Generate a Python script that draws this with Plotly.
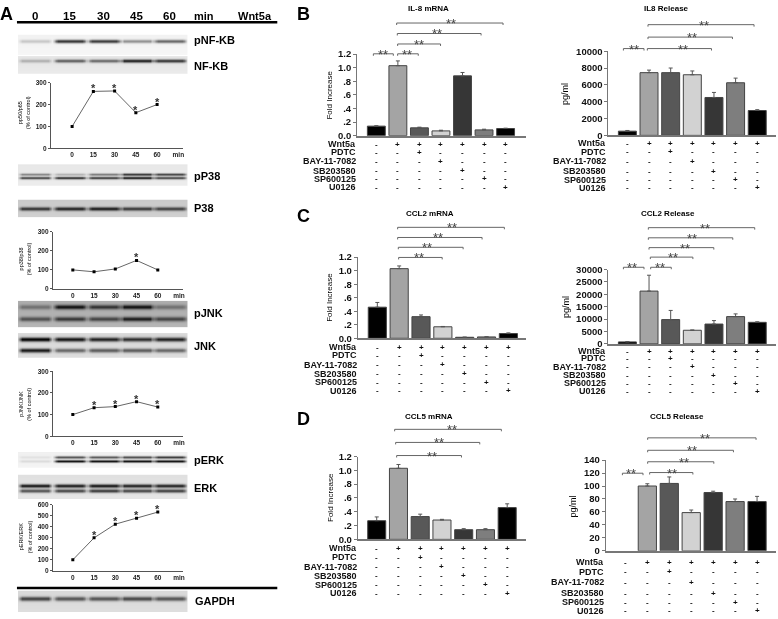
import numpy as np
import plotly.graph_objects as go

W, H = 778, 619
SANS = "Liberation Sans, Arial"

# ---------- data ----------
groups = ["Ctrl", "Wnt5a", "PDTC", "BAY", "SB", "SP", "U0126"]
bar_colors = ["#000000", "#a4a4a4", "#585858", "#d2d2d2", "#363636", "#7e7e7e", "#000000"]

il8_mrna = [0.14, 1.03, 0.115, 0.07, 0.88, 0.085, 0.105]
il8_mrna_err = [0.005, 0.07, 0.01, 0.01, 0.05, 0.01, 0.005]
il8_rel = [500, 7450, 7450, 7200, 4500, 6250, 2950]
il8_rel_err = [80, 300, 550, 450, 600, 550, 100]
ccl2_mrna = [0.46, 1.03, 0.32, 0.17, 0.015, 0.02, 0.07]
ccl2_mrna_err = [0.07, 0.04, 0.025, 0.005, 0.002, 0.002, 0.01]
ccl2_rel = [800, 21300, 9800, 5500, 8000, 11000, 8700]
ccl2_rel_err = [100, 6400, 3700, 100, 1400, 1100, 200]
ccl5_mrna = [0.27, 1.03, 0.33, 0.28, 0.14, 0.14, 0.46]
ccl5_mrna_err = [0.055, 0.055, 0.035, 0.01, 0.015, 0.015, 0.055]
ccl5_rel = [None, 100, 104, 59, 90, 76, 76]
ccl5_rel_err = [None, 3.5, 10, 4, 2, 4, 8]

treat_names = ["Wnt5a", "PDTC", "BAY-11-7082", "SB203580", "SP600125", "U0126"]
treat_signs = ["-++++++", "--+----", "---+---", "----+--", "-----+-", "------+"]

fold_ticks = [0, 0.2, 0.4, 0.6, 0.8, 1.0, 1.2]
fold_text = ["0.0", ".2", ".4", ".6", ".8", "1.0", "1.2"]

times = ["0", "15", "30", "45", "60"]
pnfkb_ratio = [100, 260, 262, 163, 200]
pp38_ratio = [100, 90, 105, 150, 100]
pjnk_ratio = [100, 132, 137, 160, 135]
perk_ratio = [100, 300, 425, 480, 535]
pnfkb_star = [0, 1, 1, 1, 1]
pp38_star = [0, 0, 0, 1, 0]
pjnk_star = [0, 1, 1, 1, 1]
perk_star = [0, 1, 1, 1, 1]

# band grey level per lane (0 min .. 60 min)
pnfkb_band = [170, 35, 40, 120, 80]
nfkb_band = [150, 80, 90, 30, 45]
pp38_upper = [110, 150, 100, 40, 50]
pp38_lower = [50, 30, 40, 15, 50]
p38_band = [35, 20, 15, 40, 45]
pjnk_upper = [95, 15, 40, 15, 95]
pjnk_lower = [60, 40, 50, 20, 50]
jnk_upper = [5, 20, 30, 40, 30]
jnk_lower = [20, 85, 75, 75, 85]
perk_upper = [205, 70, 75, 65, 50]
perk_lower = [195, 15, 15, 15, 15]
erk_upper = [10, 15, 10, 20, 20]
erk_lower = [60, 50, 40, 50, 45]
gapdh_band = [50, 65, 65, 55, 65]

# ---------- helpers ----------
fig = go.Figure()
ann, shapes = [], []
axn = [0]
LANES = [35, 70, 104, 137, 170]


def px(x):
    return x / W


def py(y):
    return 1 - y / H


def new_axes():
    axn[0] += 1
    n = axn[0]
    s = "" if n == 1 else str(n)
    return n, "x" + s, "y" + s, "xaxis" + s, "yaxis" + s


def text(x, y, t, size=9, bold=True, family=SANS, anchor="center", angle=0, color="#000000", xref="paper"):
    ann.append(dict(
        x=px(x) if xref == "paper" else x, y=py(y), xref=xref, yref="paper",
        text="<b>%s</b>" % t if bold else t, showarrow=False, xanchor=anchor, yanchor="middle",
        textangle=angle, font=dict(size=size, family=family, color=color), align="center",
        borderpad=0, borderwidth=0))


def blot(top, bottom, bg, bands, sigma=1.8):
    n, xa, ya, xl, yl = new_axes()
    xs = np.arange(18, 188.01, 2.0)
    ys = np.arange(top, bottom + 0.01, 1.0)
    z = np.full((len(ys), len(xs)), float(bg))
    z += (ys[:, None] - (top + bottom) / 2) / (bottom - top) * 8
    for yc, levels in bands:
        for c, lev in zip(LANES, levels):
            horiz = np.clip((18 - np.abs(xs - c)) / 5, 0, 1)
            vert = np.exp(-((ys - yc) / sigma) ** 2)
            z += np.outer(vert, horiz) * (lev - bg)
    fig.add_trace(go.Heatmap(x=xs, y=ys, z=z, colorscale="Greys_r", zmin=0, zmax=255, zsmooth="best",
                             showscale=False, hoverinfo="skip", xaxis=xa, yaxis=ya))
    fig.layout[xl] = dict(domain=[px(18), px(188)], range=[18, 188], visible=False, anchor=ya)
    fig.layout[yl] = dict(domain=[py(bottom), py(top)], range=[bottom, top], visible=False, anchor=xa)


def ratio_chart(vals, stars, ymax, ytick, y0, ytop, left, title1, title2, tx1, tx2, ty, first=73.0, step=21.3):
    n, xa, ya, xl, yl = new_axes()
    idx = list(range(5))
    fig.add_trace(go.Scatter(x=idx, y=vals, mode="lines+markers", line=dict(color="#666666", width=1),
                             marker=dict(color="#000000", size=3, symbol="square"),
                             xaxis=xa, yaxis=ya, showlegend=False, hoverinfo="skip"))
    right = 183
    fig.layout[xl] = dict(domain=[px(left), px(right)], range=[(left - first) / step, (right - first) / step],
                          anchor=ya, showgrid=False, zeroline=False, showline=True, linecolor="#555555", linewidth=1,
                          tickvals=idx + [5], ticktext=times + ["min"], ticks="",
                          tickfont=dict(size=6.5, family=SANS, color="#222222", weight="bold"))
    fig.layout[yl] = dict(domain=[py(y0), py(ytop)], range=[0, ymax], anchor=xa, showgrid=False, zeroline=False,
                          showline=True, linecolor="#555555", linewidth=1, tickvals=ytick, ticks="outside",
                          ticklen=2, tickcolor="#555555",
                          tickfont=dict(size=6.5, family=SANS, color="#222222", weight="bold"))
    for i, (v, s) in enumerate(zip(vals, stars)):
        if s:
            ann.append(dict(x=i, y=v, xref=xa, yref=ya, text="<b>*</b>", showarrow=False, yshift=3,
                            font=dict(size=11, family=SANS, color="#333333")))
    text(tx1, ty, title1, size=5.5, bold=False, angle=-90)
    text(tx2, ty, title2, size=5.5, bold=False, angle=-90)


def bar_chart(vals, errs, ymax, ytick, ytext, y0, ytop, left, right, first, step, title, tx, ty,
              ylab, lab_size, lx, ly, rows_y, row_right, brackets):
    n, xa, ya, xl, yl = new_axes()
    idx = list(range(7))
    fig.add_trace(go.Bar(x=idx, y=vals, width=0.83, marker=dict(color=bar_colors, line=dict(color="#444444", width=1)),
                         error_y=dict(type="data", array=errs, symmetric=False, arrayminus=[0] * 7,
                                      color="#555555", thickness=1, width=2, visible=True),
                         xaxis=xa, yaxis=ya, showlegend=False, hoverinfo="skip"))
    fig.layout[xl] = dict(domain=[px(left), px(right)], range=[(left - first) / step, (right - first) / step],
                          anchor=ya, showgrid=False, zeroline=False, showline=True, linecolor="#777777", linewidth=1.5,
                          showticklabels=False, ticks="", fixedrange=True)
    y_axis = dict(domain=[py(y0), py(ytop)], range=[0, ymax], anchor=xa, showgrid=False, zeroline=False,
                  showline=True, linecolor="#777777", linewidth=1, tickvals=ytick,
                  ticks="outside", ticklen=3, tickcolor="#777777", tickformat="d",
                  tickfont=dict(size=9.5, family=SANS, color="#111111", weight="bold"))
    if ytext is not None:
        y_axis["ticktext"] = ytext
    fig.layout[yl] = y_axis
    text(tx, ty, title, size=8)
    text(lx, ly, ylab, size=lab_size, bold=False, angle=-90)
    for name, signs, ry in zip(treat_names, treat_signs, rows_y):
        text(row_right, ry, name, size=9, anchor="right", color="#111111")
        for i, sg in enumerate(signs):
            text(i, ry, sg, size=8, xref=xa, color="#111111")
    for x1, x2, by, sx in brackets:
        for seg in ((x1, by, x2, by), (x1, by, x1, by + 2), (x2, by, x2, by + 2)):
            shapes.append(dict(type="line", xref="paper", yref="paper", x0=px(seg[0]), x1=px(seg[2]),
                               y0=py(seg[1]), y1=py(seg[3]), line=dict(color="#666666", width=1)))
        text(sx, by + 0.5, "**", size=13, bold=False, color="#444444")


def br(ox, oy, items):
    return [(ox + a / 3, ox + b / 3, oy + c / 3, ox + d / 3) for a, b, c, d in items]


# ---------- panel A ----------
blot(29, 50, 232, [(35.5, pnfkb_band)])
blot(51, 69, 212, [(55.5, nfkb_band)])
blot(161, 183, 215, [(171, pp38_upper), (174.5, pp38_lower)], 1.3)
blot(197, 215, 178, [(206, p38_band)])
blot(300, 327, 150, [(306, pjnk_upper), (318, pjnk_lower)], 2.2)
blot(333, 358, 195, [(339, jnk_upper), (350, jnk_lower)], 2.2)
blot(454, 470, 228, [(459, perk_upper), (463, perk_lower)], 1.4)
blot(477, 502, 205, [(488, erk_upper), (493, erk_lower)], 1.8)
blot(595, 617, 195, [(603, gapdh_band)], 2.2)

ratio_chart(pnfkb_ratio, pnfkb_star, 300, [0, 100, 200, 300], 145, 78, 51, "pp50/p65", "(% of control)", 20, 28, 108, first=72.3)
ratio_chart(pp38_ratio, pp38_star, 300, [0, 100, 200, 300], 288, 230, 53, "pp38/p38", "(% of control)", 21, 30, 257)
ratio_chart(pjnk_ratio, pjnk_star, 300, [0, 100, 200, 300], 438, 372, 53, "pJNK/JNK", "(% of control)", 21, 29, 405)
ratio_chart(perk_ratio, perk_star, 600, [0, 100, 200, 300, 400, 500, 600], 575, 508, 53, "pERK/ERK", "(% of control)", 21, 30, 540)

for c, t in zip(LANES, times):
    text(c, 10.5, t, size=11.5)
text(195, 10.5, "min", size=11, anchor="left")
text(239, 10.5, "Wnt5a", size=11, anchor="left")
for y, t in [(35, "pNF-KB"), (61, "NF-KB"), (173, "pP38"), (206, "P38"), (313, "pJNK"), (346, "JNK"),
             (462, "pERK"), (491, "ERK")]:
    text(195, y, t, size=11, anchor="left")
text(196, 606, "GAPDH", size=11, anchor="left")

for y in (16.5, 592.5):
    shapes.append(dict(type="line", xref="paper", yref="paper", x0=px(17), x1=px(278), y0=py(y), y1=py(y),
                       line=dict(color="#000000", width=2.5)))

# ---------- panels B, C, D ----------
bar_chart(il8_mrna, il8_mrna_err, 1.2, fold_ticks, fold_text, 132, 49, 358, 527, 377.3, 21.6,
          "IL-8 mRNA", 430, 3, "Fold Increase", 8, 330.5, 90.5,
          [140.7, 149, 158, 167.5, 176, 184.7], 356.5,
          br(270, 0, [(313, 373, 146, 342), (386, 448, 146, 415), (386, 515, 116, 450),
                      (385, 637, 84, 505), (383, 703, 52, 545)]))
bar_chart(il8_rel, il8_rel_err, 10000, [0, 2000, 4000, 6000, 8000, 10000], None, 131.7, 46, 610, 778, 629, 21.7,
          "IL8 Release", 668, 3, "pg/ml", 9, 567, 90,
          [139.7, 148.3, 158, 168, 177, 185], 608,
          br(524, 0, [(303, 365, 130, 334), (375, 568, 130, 482), (377, 631, 95, 508), (377, 696, 57, 545)]))
bar_chart(ccl2_mrna, ccl2_mrna_err, 1.2, fold_ticks, fold_text, 338.3, 255.7, 358.7, 527, 378.3, 21.9,
          "CCL2 mRNA", 431, 211, "Fold Increase", 8, 331, 297,
          [347.3, 355.7, 365, 374.3, 383.3, 391.7], 358,
          [(a, b, c + 205, d) for a, b, c, d in br(270, 0, [(389, 520, 153, 450), (388, 583, 122, 475),
                                                          (386, 640, 92, 507), (386, 707, 61, 548)])])
bar_chart(ccl2_rel, ccl2_rel_err, 30000, [0, 5000, 10000, 15000, 20000, 25000, 30000], None, 344, 268.3, 610, 778, 629, 21.7,
          "CCL2 Release", 669.7, 211, "pg/ml", 9, 567, 307,
          [351.3, 358.7, 367.3, 376, 384.3, 392], 608,
          [(a, b, c + 205, d) for a, b, c, d in br(524, 0, [(303, 365, 183, 330), (385, 447, 183, 412),
                                                          (384, 512, 152, 452), (380, 575, 123, 487),
                                                          (378, 632, 93, 510), (378, 698, 62, 548)])])
bar_chart(ccl5_mrna, ccl5_mrna_err, 1.2, fold_ticks, fold_text, 543, 458.7, 358.7, 527, 377.7, 21.8,
          "CCL5 mRNA", 430, 418, "Fold Increase", 8, 330.7, 500,
          [552.3, 561, 570.7, 580.3, 589.3, 598], 358,
          [(a, b, c + 405, d) for a, b, c, d in br(270, 0, [(383, 578, 158, 488), (380, 633, 118, 510),
                                                          (377, 698, 78, 548)])])
bar_chart(ccl5_rel, ccl5_rel_err, 140, [0, 20, 40, 60, 80, 100, 120, 140], None, 554.7, 462.3, 607.3, 778, 627, 22,
          "CCL5 Release", 679, 418, "pg/ml", 9, 574, 510,
          [566.3, 576, 586.7, 597.7, 607, 615.7], 605.7,
          [(a, b, c + 405, d) for a, b, c, d in br(524, 0, [(300, 362, 212, 326), (382, 512, 210, 450),
                                                          (376, 575, 177, 486), (376, 634, 142, 509),
                                                          (376, 702, 104, 548)])])

for x, y, t in [(7, 8, "A"), (304, 8, "B"), (304, 214, "C"), (304, 420, "D")]:
    text(x, y, t, size=18)

fig.update_layout(width=W, height=H, margin=dict(l=0, r=0, t=0, b=0), autosize=False,
                  paper_bgcolor="rgba(255,255,255,0)", plot_bgcolor="rgba(0,0,0,0)", showlegend=False,
                  annotations=ann, shapes=shapes, barmode="overlay")
fig.write_html("out.html", config=dict(displayModeBar=False),
               post_script="document.body.style.margin='0';document.body.style.overflow='hidden';"
                           "document.body.style.background='#ffffff';"
                           "var s=document.createElement('style');s.textContent='.main-svg{opacity:.999;will-change:opacity}';"
                           "document.head.appendChild(s);")
